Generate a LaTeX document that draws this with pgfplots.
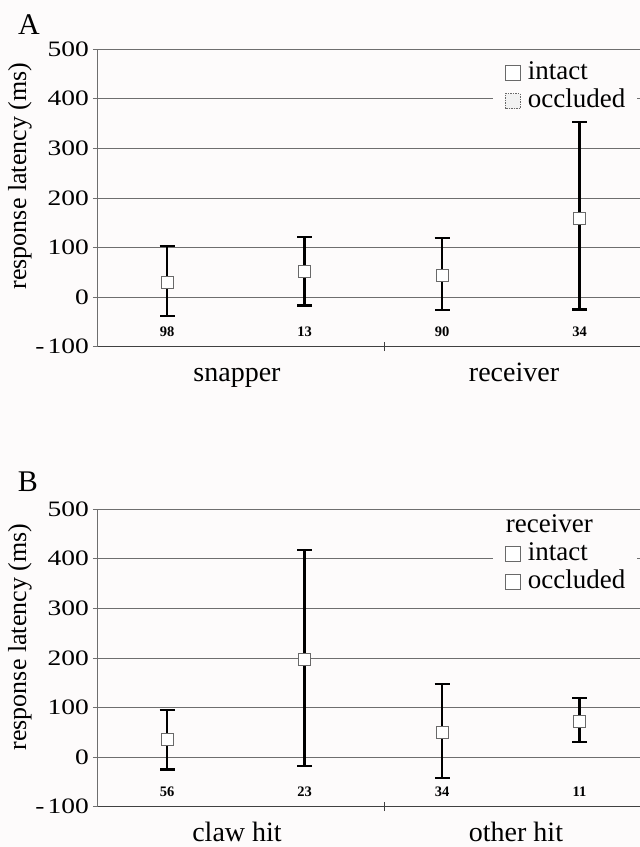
\documentclass[border=0pt]{standalone}
\usepackage{pgfplots}
\pgfplotsset{compat=1.18}
\usepackage{fontspec}
\setmainfont{Liberation Serif}
\newfontfamily\stretchfont[FakeStretch=1.25]{Liberation Serif}
\definecolor{bg}{RGB}{253,251,251}
\definecolor{gridc}{RGB}{110,110,110}
\definecolor{markc}{RGB}{105,105,105}

\pgfplotstableread{
x y ep em
0 30 73 68
2 44 76 70
}\Aintact
\pgfplotstableread{
x y ep em
1 52 70 69
3 159 194 184
}\Aoccl
\pgfplotstableread{
x y n
0 -69.5 98
1 -69.5 13
2 -69.5 90
3 -69.5 34
}\Acount
\pgfplotstableread{
x y ep em
0 36 59 61
2 50 97 92
}\Bintact
\pgfplotstableread{
x y ep em
1 197 221 215
3 72 47 41
}\Boccl
\pgfplotstableread{
x y n
0 -69.5 56
1 -69.5 23
2 -69.5 34
3 -69.5 11
}\Bcount

\pgfplotsset{
  panel/.style={
    scale only axis, width=543pt, height=297.5pt,
    xmin=-0.51, xmax=3.44, ymin=-100, ymax=500,
    axis lines*=left,
    axis line style={gridc, line width=0.8pt},
    x axis line style={black!75, line width=1pt},
    ytick={-100,0,100,200,300,400,500},
    yticklabels={{-\kern3pt100},0,100,200,300,400,500},
    yticklabel style={font=\stretchfont\fontsize{22pt}{22pt}\selectfont, inner xsep=4pt},
    ymajorgrids, grid style={gridc, line width=0.8pt},
    tick align=outside, major tick length=4pt,
    y tick style={gridc, line width=0.8pt},
    xtick=\empty,
    extra x ticks={1.58}, extra x tick labels={},
    extra x tick style={grid=none, tick align=center, major tick length=9pt, x tick style={black!75, line width=0.8pt}},
    clip=false,
    legend cell align=left,
    legend style={draw=none, fill=bg, inner xsep=12pt, inner ysep=3pt,
      row sep=3pt, column sep=7pt, anchor=north west,
      font=\fontsize{27pt}{27pt}\selectfont,
      nodes={inner sep=0pt, text height=19pt, text depth=6pt}},
  },
  eb/.style={
    forget plot, only marks, mark=square*, mark size=6pt,
    mark options={fill=white, draw=markc, line width=0.8pt, solid},
    error bars/y dir=both, error bars/y explicit,
    error bars/error bar style={black, line width=2.2pt, solid},
    error bars/error mark options={rotate=90, black, line width=2.2pt, mark size=7.5pt, solid},
  },
  cnt/.style={
    forget plot, only marks, mark=none, point meta=explicit symbolic,
    nodes near coords,
    nodes near coords style={anchor=center, black, font=\bfseries\fontsize{14.5pt}{14.5pt}\selectfont},
  },
}

\begin{document}
\begin{tikzpicture}
\fill[bg] (0pt,0pt) rectangle (640pt,847pt);

% Panel A
\begin{axis}[panel, at={(97pt,500.3pt)}, anchor=south west,
  legend style={at={(rel axis cs:0.729,0.972)}}]
\addplot[eb] table[x=x, y=y, y error plus=ep, y error minus=em] {\Aintact};
\addplot[eb] table[x=x, y=y, y error plus=ep, y error minus=em] {\Aoccl};
\addplot[cnt] table[x=x, y=y, meta=n] {\Acount};
\addlegendimage{legend image code/.code={\draw[markc, fill=white, line width=0.8pt] (0pt,-7.5pt) rectangle (15pt,7.5pt);}}
\addlegendentry{intact}
\addlegendimage{legend image code/.code={\draw[markc, fill=gray!10, line width=0.8pt, dash pattern=on 1.5pt off 1pt] (0pt,-7.5pt) rectangle (15pt,7.5pt);}}
\addlegendentry{occluded}
\end{axis}

\node[font=\fontsize{30pt}{30pt}\selectfont] at (29pt,822pt) {A};
\node[rotate=90, font=\fontsize{26pt}{26pt}\selectfont] at (20pt,671pt) {response latency (ms)};
\node[anchor=base, font=\fontsize{28pt}{28pt}\selectfont] at (237pt,465.3pt) {snapper};
\node[anchor=base, font=\fontsize{28pt}{28pt}\selectfont] at (514pt,465.3pt) {receiver};

% Panel B
\begin{axis}[panel, at={(97pt,40.3pt)}, anchor=south west,
  legend style={at={(rel axis cs:0.729,0.995)}}]
\addplot[eb] table[x=x, y=y, y error plus=ep, y error minus=em] {\Bintact};
\addplot[eb] table[x=x, y=y, y error plus=ep, y error minus=em] {\Boccl};
\addplot[cnt] table[x=x, y=y, meta=n] {\Bcount};
\addlegendimage{empty legend}
\addlegendentry{\hspace*{-22pt}receiver}
\addlegendimage{legend image code/.code={\draw[markc, fill=white, line width=0.8pt] (0pt,-7.5pt) rectangle (15pt,7.5pt);}}
\addlegendentry{intact}
\addlegendimage{legend image code/.code={\draw[markc, fill=white, line width=0.8pt] (0pt,-7.5pt) rectangle (15pt,7.5pt);}}
\addlegendentry{occluded}
\end{axis}

\node[font=\fontsize{30pt}{30pt}\selectfont] at (28pt,365pt) {B};
\node[rotate=90, font=\fontsize{26pt}{26pt}\selectfont] at (20pt,210pt) {response latency (ms)};
\node[anchor=base, font=\fontsize{28pt}{28pt}\selectfont] at (237pt,5.5pt) {claw hit};
\node[anchor=base, font=\fontsize{28pt}{28pt}\selectfont] at (516pt,5.5pt) {other hit};

\pgfresetboundingbox
\path[use as bounding box] (0pt,0pt) rectangle (640pt,847pt);
\end{tikzpicture}
\end{document}
